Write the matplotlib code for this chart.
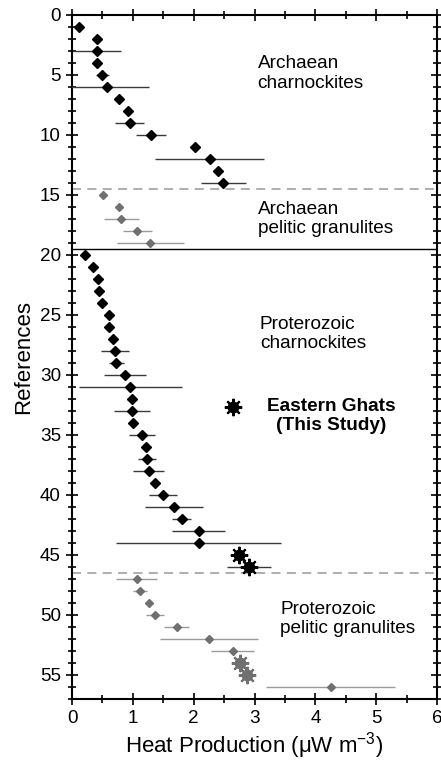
import matplotlib
matplotlib.use("Agg")
import matplotlib.pyplot as plt
from matplotlib.ticker import MultipleLocator

plt.rcParams['font.family'] = ['Liberation Sans', 'DejaVu Sans']
plt.rcParams['mathtext.fontset'] = 'custom'
plt.rcParams['mathtext.rm'] = 'Liberation Sans'
plt.rcParams['mathtext.it'] = 'Liberation Sans:italic'

# Archaean charnockites
arch_ch_ref = list(range(1, 15))
arch_ch_hp = [0.12, 0.41, 0.41, 0.41, 0.50, 0.58, 0.77, 0.92, 0.95, 1.30, 2.02, 2.26, 2.40, 2.49]
arch_ch_err = [0, 0, 0.40, 0, 0.11, 0.69, 0, 0, 0.24, 0.25, 0, 0.90, 0, 0.37]

# Archaean pelitic granulites
arch_pel_ref = list(range(15, 20))
arch_pel_hp = [0.51, 0.77, 0.81, 1.07, 1.29]
arch_pel_err = [0, 0, 0.29, 0.24, 0.55]

# Proterozoic charnockites
prot_ch_ref = list(range(20, 45))
prot_ch_hp = [0.22, 0.34, 0.42, 0.44, 0.49, 0.61, 0.61, 0.68, 0.71, 0.73, 0.87, 0.96, 0.98,
              0.99, 1.01, 1.15, 1.22, 1.23, 1.26, 1.36, 1.49, 1.68, 1.80, 2.08, 2.08]
prot_ch_err = [0, 0, 0, 0, 0, 0, 0, 0, 0.23, 0.12, 0.34, 0.84, 0.08,
               0.30, 0, 0.21, 0, 0.15, 0.25, 0, 0.23, 0.48, 0.16, 0.43, 1.36]

# Eastern Ghats charnockites (this study)
eg_ch_ref = [45, 46]
eg_ch_hp = [2.74, 2.91]
eg_ch_err = [0, 0.36]

# Proterozoic pelitic granulites
prot_pel_ref = [47, 48, 49, 50, 51, 52, 53, 56]
prot_pel_hp = [1.06, 1.12, 1.27, 1.36, 1.72, 2.25, 2.64, 4.25]
prot_pel_err = [0.34, 0.12, 0, 0.15, 0.20, 0.80, 0.35, 1.06]

# Eastern Ghats pelitic granulites (this study)
eg_pel_ref = [54, 55]
eg_pel_hp = [2.76, 2.88]
eg_pel_err = [0.10, 0.10]

BLACK = 'black'
GREY = '#707070'
ERR_DARK = '#3a3a3a'
ERR_LIGHT = '#9a9a9a'
FS = 13.7


def diamonds(ax, x, y, err, color, ecolor, ms):
    ax.errorbar(x, y, xerr=err, fmt='D', color=color, ecolor=ecolor, elinewidth=1.0,
                ms=ms, mec=color, capsize=0, zorder=3)


def stars(ax, x, y, err, color, ecolor):
    ax.errorbar(x, y, xerr=err, fmt='none', ecolor=ecolor, elinewidth=1.0, capsize=0, zorder=2)
    ax.plot(x, y, ls='none', marker=(8, 2, 0), ms=12.5, mew=1.5, color=color, zorder=4)
    ax.plot(x, y, ls='none', marker='o', ms=7.5, color=color, zorder=4)


fig = plt.figure(figsize=(4.41, 7.60), dpi=100)
ax = fig.add_axes([0.1633, 0.0803, 0.8277, 0.90])

diamonds(ax, arch_ch_hp, arch_ch_ref, arch_ch_err, BLACK, ERR_DARK, 4.6)
diamonds(ax, arch_pel_hp, arch_pel_ref, arch_pel_err, GREY, ERR_LIGHT, 3.6)
diamonds(ax, prot_ch_hp, prot_ch_ref, prot_ch_err, BLACK, ERR_DARK, 4.6)
stars(ax, eg_ch_hp, eg_ch_ref, eg_ch_err, BLACK, ERR_DARK)
diamonds(ax, prot_pel_hp, prot_pel_ref, prot_pel_err, GREY, ERR_LIGHT, 3.6)
stars(ax, eg_pel_hp, eg_pel_ref, eg_pel_err, GREY, ERR_LIGHT)

# group separators
ax.axhline(14.5, color='#a8a8a8', lw=1.3, ls=(0, (5, 3.5)), zorder=1)
ax.axhline(46.5, color='#a8a8a8', lw=1.3, ls=(0, (5, 3.5)), zorder=1)
ax.axhline(19.5, color='black', lw=1.0, zorder=1)

# group labels
ax.text(3.05, 4.9, 'Archaean\ncharnockites', fontsize=FS, va='center', ha='left', linespacing=1.2)
ax.text(3.06, 17.0, 'Archaean\npelitic granulites', fontsize=FS, va='center', ha='left', linespacing=1.2)
ax.text(3.09, 26.6, 'Proterozoic\ncharnockites', fontsize=FS, va='center', ha='left', linespacing=1.2)
ax.text(3.42, 50.35, 'Proterozoic\npelitic granulites', fontsize=FS, va='center', ha='left', linespacing=1.2)

# legend entry for this study
ax.plot([2.65], [32.7], ls='none', marker=(8, 2, 0), ms=12.5, mew=1.5, color=BLACK)
ax.plot([2.65], [32.7], ls='none', marker='o', ms=7.5, color=BLACK)
ax.text(4.26, 33.4, 'Eastern Ghats\n(This Study)', fontsize=FS, fontweight='bold',
        va='center', ha='center', linespacing=1.15)

ax.set_xlim(0, 6)
ax.set_ylim(57, 0)
ax.xaxis.set_major_locator(MultipleLocator(1))
ax.xaxis.set_minor_locator(MultipleLocator(0.5))
ax.yaxis.set_major_locator(MultipleLocator(5))
ax.yaxis.set_minor_locator(MultipleLocator(1))
ax.tick_params(which='both', direction='inout', top=True, right=True, width=1.2, labelsize=13.6)
ax.tick_params(which='major', length=9)
ax.tick_params(which='minor', length=6)
for s in ax.spines.values():
    s.set_linewidth(1.5)

ax.set_xlabel('Heat Production (μW m$^{-3}$)', fontsize=16, labelpad=2)
ax.set_ylabel('References', fontsize=16, labelpad=4)

fig.savefig('out.png', dpi=100)
